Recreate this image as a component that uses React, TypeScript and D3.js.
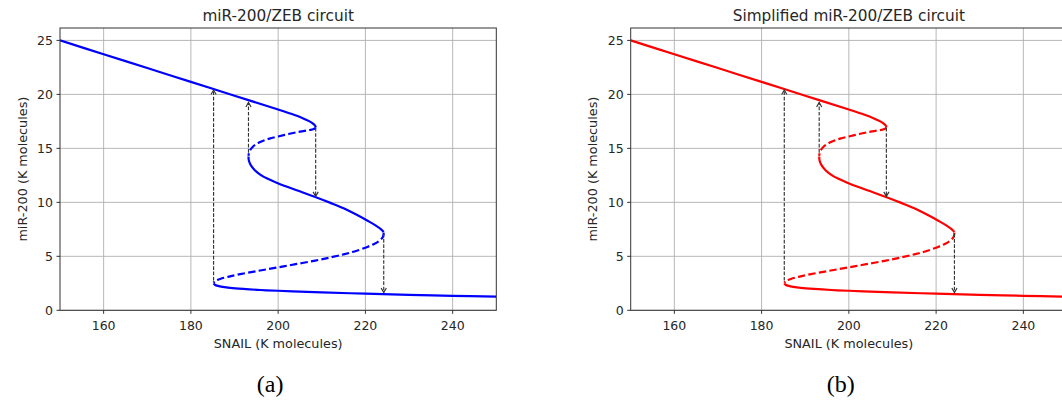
import React from 'react';
import * as d3 from 'd3';

const titles = ['miR-200/ZEB circuit', 'Simplified miR-200/ZEB circuit'];
const captions = ['(a)', '(b)'];
const colors = ['#0000ff', '#ff0000'];
const xLabel = 'SNAIL (K molecules)';
const yLabel = 'miR-200 (K molecules)';
const xTicks = [160, 180, 200, 220, 240];
const yTicks = [0, 5, 10, 15, 20, 25];
const xDomain: [number, number] = [150, 250];
const yDomain: [number, number] = [0, 26.15];

// Bifurcation curve branches [SNAIL, miR-200]
const upperStable: [number, number][] = [
  [150, 25], [160, 23.72], [170, 22.44], [180, 21.16], [190, 19.88], [200, 18.6],
  [203, 18.2], [205.5, 17.82], [207.2, 17.5], [208.2, 17.22], [208.55, 17.06], [208.6, 16.95],
];
const unstableHigh: [number, number][] = [
  [208.6, 16.95], [208.3, 16.82], [207.3, 16.7], [205, 16.55], [202.6, 16.35],
  [200, 16.1], [198, 15.9], [196.3, 15.65], [195.1, 15.42], [194.2, 15.15],
  [193.6, 14.85], [193.3, 14.55], [193.2, 14.3],
];
const middleStable: [number, number][] = [
  [193.2, 14.25], [193.3, 13.85], [193.8, 13.4], [194.6, 13.0], [195.8, 12.6],
  [197.5, 12.2], [199.8, 11.8], [203, 11.3], [208.5, 10.5], [212, 9.95],
  [215, 9.45], [218, 8.85], [220.5, 8.3], [222.4, 7.85], [223.6, 7.5], [224.2, 7.25],
];
const unstableLow: [number, number][] = [
  [224.2, 7.2], [224.0, 6.8], [223.2, 6.45], [222, 6.15], [220.3, 5.85], [217.5, 5.45],
  [215, 5.18], [212, 4.9], [208.5, 4.6], [204, 4.27], [199.8, 3.97], [195.5, 3.66],
  [191.3, 3.35], [188.5, 3.1], [186.7, 2.9], [185.6, 2.72], [185.2, 2.55],
];
const lowerStable: [number, number][] = [
  [185.2, 2.5], [185.5, 2.37], [186.2, 2.26], [187.3, 2.17], [189, 2.08], [192, 1.98],
  [196, 1.88], [200, 1.81], [205, 1.73], [210, 1.66], [220, 1.54], [230, 1.43],
  [240, 1.34], [250, 1.26],
];
const branches = [
  { pts: upperStable, dashed: false },
  { pts: unstableHigh, dashed: true },
  { pts: middleStable, dashed: false },
  { pts: unstableLow, dashed: true },
  { pts: lowerStable, dashed: false },
];

// Transition arrows
const arrowX = [185.2, 193.2, 208.6, 224.2];
const arrowFrom = [2.75, 14.6, 16.9, 7.1];
const arrowTo = [20.4, 19.25, 10.55, 1.65];

const FONT = '"DejaVu Sans", sans-serif';

function Panel({ idx, left }: { idx: number; left: number }) {
  const width = 436.3;
  const top = 28;
  const bottom = 310.3;
  const x = d3.scaleLinear().domain(xDomain).range([left, left + width]);
  const y = d3.scaleLinear().domain(yDomain).range([bottom, top]);
  const line = d3
    .line<[number, number]>()
    .x((d) => x(d[0]))
    .y((d) => y(d[1]))
    .curve(d3.curveCatmullRom.alpha(0.5));
  const clipId = `clip${idx}`;
  const color = colors[idx];
  const cx = left + width / 2;
  return (
    <g>
      <defs>
        <clipPath id={clipId}>
          <rect x={left} y={top} width={width} height={bottom - top} />
        </clipPath>
      </defs>
      {xTicks.map((t) => (
        <line key={'gx' + t} x1={x(t)} x2={x(t)} y1={top} y2={bottom} stroke="#b0b0b0" strokeWidth={0.9} />
      ))}
      {yTicks.map((t) => (
        <line key={'gy' + t} x1={left} x2={left + width} y1={y(t)} y2={y(t)} stroke="#b0b0b0" strokeWidth={0.9} />
      ))}
      <g clipPath={`url(#${clipId})`}>
        {branches.map((b, i) => (
          <path
            key={'b' + i}
            d={line(b.pts) || ''}
            fill="none"
            stroke={color}
            strokeWidth={2.2}
            strokeDasharray={b.dashed ? '7.4,3.2' : undefined}
            strokeLinecap="butt"
            strokeLinejoin="round"
          />
        ))}
        {arrowX.map((ax, i) => {
          const px = x(ax);
          const y0 = y(arrowFrom[i]);
          const y1 = y(arrowTo[i]);
          const dir = y1 < y0 ? 1 : -1; // 1 = pointing up
          const hl = 4.5;
          const hw = 2.6;
          return (
            <g key={'a' + i} stroke="#333" strokeWidth={1.15} fill="none">
              <line x1={px} x2={px} y1={y0} y2={y1} strokeDasharray="3.7,1.6" />
              <path d={`M${px - hw},${y1 + dir * hl} L${px},${y1} L${px + hw},${y1 + dir * hl}`} />
            </g>
          );
        })}
      </g>
      <rect x={left} y={top} width={width} height={bottom - top} fill="none" stroke="#333" strokeWidth={1} />
      {xTicks.map((t) => (
        <g key={'xt' + t}>
          <line x1={x(t)} x2={x(t)} y1={bottom} y2={bottom + 3.5} stroke="#333" strokeWidth={1} />
          <text x={x(t)} y={330} textAnchor="middle" fontFamily={FONT} fontSize={12.5} fill="#262626">
            {t}
          </text>
        </g>
      ))}
      {yTicks.map((t) => (
        <g key={'yt' + t}>
          <line x1={left - 3.5} x2={left} y1={y(t)} y2={y(t)} stroke="#333" strokeWidth={1} />
          <text x={left - 7} y={y(t)} dy="0.36em" textAnchor="end" fontFamily={FONT} fontSize={12.5} fill="#262626">
            {t}
          </text>
        </g>
      ))}
      <text x={cx} y={348} textAnchor="middle" fontFamily={FONT} fontSize={12.8} fill="#262626">
        {xLabel}
      </text>
      <text
        transform={`translate(${left - 33.5},${(top + bottom) / 2}) rotate(-90)`}
        textAnchor="middle"
        fontFamily={FONT}
        fontSize={12.8}
        fill="#262626"
      >
        {yLabel}
      </text>
      <text x={cx} y={20.5} textAnchor="middle" fontFamily={FONT} fontSize={15.3} fill="#262626">
        {titles[idx]}
      </text>
      <text x={cx - 8} y={392} textAnchor="middle" fontFamily='"Liberation Serif", serif' fontSize={24} fill="#000">
        {captions[idx]}
      </text>
    </g>
  );
}

export default function App() {
  return (
    <svg
      width={1062}
      height={402}
      style={{ position: 'fixed', left: 0, top: 0, background: '#fff' }}
    >
      <rect x={0} y={0} width={1062} height={402} fill="#fff" />
      <Panel idx={0} left={60} />
      <Panel idx={1} left={630.7} />
    </svg>
  );
}
